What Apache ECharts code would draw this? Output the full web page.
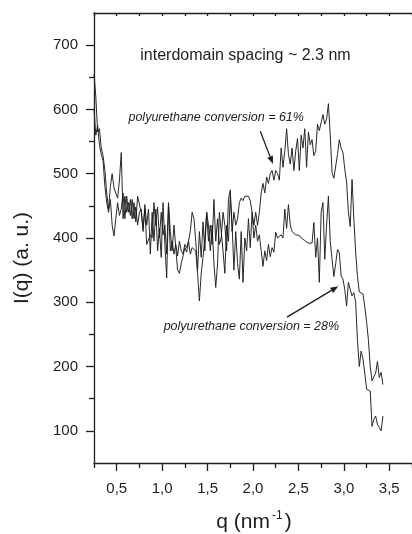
<!DOCTYPE html>
<html>
<head>
<meta charset="utf-8">
<script src="https://cdn.jsdelivr.net/npm/echarts@6/dist/echarts.min.js"></script>
<style>
  html, body { margin: 0; padding: 0; background: #fff; }
  #chart { width: 412px; height: 534px; }
</style>
</head>
<body>
<div id="chart"></div>
<script>
// Scattering vector q (nm^-1)
const q = [
  0.25,0.27,0.29,0.31,0.33,0.35,0.37,0.39,0.41,0.43,0.45,0.47,0.49,0.51,0.53,0.55,0.57,0.59,0.61,0.63,
  0.65,0.67,0.69,0.71,0.73,0.75,0.77,0.79,0.81,0.83,0.85,0.87,0.89,0.91,0.93,0.95,0.97,0.99,1.01,1.03,
  1.05,1.07,1.09,1.11,1.13,1.15,1.17,1.19,1.21,1.23,1.25,1.27,1.29,1.31,1.33,1.35,1.37,1.39,1.41,1.43,
  1.45,1.47,1.49,1.51,1.53,1.55,1.57,1.59,1.61,1.63,1.65,1.67,1.69,1.71,1.73,1.75,1.77,1.79,1.81,1.83,
  1.85,1.87,1.89,1.91,1.93,1.95,1.97,1.99,2.01,2.03,2.05,2.07,2.09,2.11,2.13,2.15,2.17,2.19,2.21,2.23,
  2.25,2.27,2.29,2.31,2.33,2.35,2.37,2.39,2.41,2.43,2.45,2.47,2.49,2.51,2.53,2.55,2.57,2.59,2.61,2.63,
  2.65,2.67,2.69,2.71,2.73,2.75,2.77,2.79,2.81,2.83,2.85,2.87,2.89,2.91,2.93,2.95,2.97,2.99,3.01,3.03,
  3.05,3.07,3.09,3.11,3.13,3.15,3.17,3.19,3.21,3.23,3.25,3.27,3.29,3.31,3.33,3.35,3.37,3.39,3.41,3.43
];

// Intensity, polyurethane conversion = 61 %
const conv61 = [
  655,620,565,570,540,528,505,470,445,480,500,478,470,462,490,533,430,465,440,455,
  435,460,430,448,420,440,445,410,452,420,445,375,440,395,445,380,415,370,455,390,
  338,450,380,395,375,390,372,395,380,375,390,385,395,410,440,430,395,350,410,370,
  425,380,440,395,420,390,460,395,430,390,400,440,420,380,460,475,410,440,420,430,
  455,462,458,465,462,465,458,440,420,440,420,440,470,485,470,495,485,500,505,490,
  505,500,490,540,510,535,570,530,515,540,505,535,555,505,560,540,570,510,565,545,
  553,528,535,577,567,570,592,577,585,609,560,502,493,496,530,553,540,533,507,487,
  440,418,491,430,378,340,316,313,313,294,270,242,200,178,175,190,208,183,191,172
];

// Intensity, polyurethane conversion = 28 %
const conv28 = [
  600,560,575,545,530,520,480,455,440,460,420,403,430,455,435,445,470,430,465,440,
  460,430,455,425,465,465,440,415,445,390,392,405,400,455,420,448,400,440,405,420,
  375,455,410,380,420,385,350,345,360,372,385,378,395,375,385,385,380,345,302,345,
  370,400,440,420,380,420,360,323,360,440,410,380,345,420,395,465,420,350,410,360,
  336,410,331,400,380,430,385,440,400,420,395,405,380,356,380,365,390,371,385,378,
  409,400,398,405,400,445,415,452,420,410,408,405,408,404,400,398,396,393,392,395,
  392,424,370,400,331,440,455,367,420,465,395,367,340,360,382,377,341,336,320,294,
  331,320,310,315,300,240,200,224,212,190,165,165,162,107,118,123,110,105,100,123
];

// Axis ticks
const xMajor = [0.5, 1.0, 1.5, 2.0, 2.5, 3.0, 3.5];
const xMinor = [0.25, 0.75, 1.25, 1.75, 2.25, 2.75, 3.25, 3.75];
const yMajor = [100, 200, 300, 400, 500, 600, 700];
const yMinor = [150, 250, 350, 450, 550, 650];

const FONT = '"Liberation Sans", Arial, Helvetica, sans-serif';
const INK = '#1e1e1e';

const pts61 = q.map((v, i) => [v, conv61[i]]);
const pts28 = q.map((v, i) => [v, conv28[i]]);

const chart = echarts.init(document.getElementById('chart'), null, { renderer: 'canvas' });

const lineStyleAxis = { color: INK, width: 1.3 };

chart.setOption({
  animation: false,
  backgroundColor: '#fff',
  grid: { left: 94, top: 13, right: -3, bottom: 71, containLabel: false },
  xAxis: [
    {
      type: 'value', position: 'bottom', min: 0.25, max: 3.75,
      axisLine: { show: true, onZero: false, lineStyle: lineStyleAxis },
      axisTick: { show: true, customValues: xMajor, length: 8, lineStyle: lineStyleAxis },
      axisLabel: {
        customValues: xMajor, margin: 18, color: INK, fontSize: 15, fontFamily: FONT,
        formatter: v => v.toFixed(1).replace('.', ',')
      },
      splitLine: { show: false }
    },
    {
      type: 'value', position: 'bottom', min: 0.25, max: 3.75,
      axisLine: { show: false, onZero: false },
      axisTick: { show: true, customValues: xMinor, length: 5, lineStyle: lineStyleAxis },
      axisLabel: { show: false },
      splitLine: { show: false }
    },
    {
      type: 'value', position: 'top', min: 0.25, max: 3.75,
      axisLine: { show: true, onZero: false, lineStyle: lineStyleAxis },
      axisTick: { show: true, inside: true, customValues: xMajor.concat(xMinor), length: 3, lineStyle: lineStyleAxis },
      axisLabel: { show: false },
      splitLine: { show: false }
    }
  ],
  yAxis: [
    {
      type: 'value', position: 'left', min: 50, max: 750,
      axisLine: { show: true, onZero: false, lineStyle: lineStyleAxis },
      axisTick: { show: true, customValues: yMajor, length: 8, lineStyle: lineStyleAxis },
      axisLabel: { customValues: yMajor, margin: 16, color: INK, fontSize: 15, fontFamily: FONT },
      splitLine: { show: false }
    },
    {
      type: 'value', position: 'left', min: 50, max: 750,
      axisLine: { show: false, onZero: false },
      axisTick: { show: true, customValues: yMinor, length: 5, lineStyle: lineStyleAxis },
      axisLabel: { show: false },
      splitLine: { show: false }
    }
  ],
  series: [
    {
      name: 'polyurethane conversion = 61%', type: 'line', xAxisIndex: 0, yAxisIndex: 0,
      data: pts61, showSymbol: false, symbol: 'none',
      lineStyle: { color: INK, width: 0.95 }
    },
    {
      name: 'polyurethane conversion = 28%', type: 'line', xAxisIndex: 0, yAxisIndex: 0,
      data: pts28, showSymbol: false, symbol: 'none',
      lineStyle: { color: INK, width: 0.95 }
    }
  ]
});

// Annotations and pointer arrows, placed in data coordinates
const notes = [
  { at: [1.917, 683], text: 'interdomain spacing ~ 2.3 nm', size: 16, italic: false },
  { at: [1.595, 588], text: 'polyurethane conversion = 61%', size: 12.5, italic: true },
  { at: [1.982, 263], text: 'polyurethane conversion = 28%', size: 12.5, italic: true }
];
const arrows = [
  { from: [2.08, 566], to: [2.22, 515] },
  { from: [2.374, 277], to: [2.94, 325] }
];

const toPx = d => chart.convertToPixel({ xAxisIndex: 0, yAxisIndex: 0 }, d);
const graphics = [];

notes.forEach(n => {
  const p = toPx(n.at);
  graphics.push({
    type: 'text', x: p[0], y: p[1], silent: true,
    style: {
      text: n.text, fill: INK, font: (n.italic ? 'italic ' : '') + n.size + 'px ' + FONT,
      align: 'center', verticalAlign: 'middle'
    }
  });
});

arrows.forEach(a => {
  const p0 = toPx(a.from), p1 = toPx(a.to);
  const dx = p1[0] - p0[0], dy = p1[1] - p0[1];
  const len = Math.hypot(dx, dy), ux = dx / len, uy = dy / len;
  const headL = 8, headW = 3;
  const bx = p1[0] - ux * headL, by = p1[1] - uy * headL;
  graphics.push({
    type: 'line', silent: true,
    shape: { x1: p0[0], y1: p0[1], x2: bx, y2: by },
    style: { stroke: INK, lineWidth: 1.3 }
  });
  graphics.push({
    type: 'polygon', silent: true,
    shape: { points: [[p1[0], p1[1]], [bx - uy * headW, by + ux * headW], [bx + uy * headW, by - ux * headW]] },
    style: { fill: INK }
  });
});

// Axis titles
const plotMidY = (toPx([0.25, 50])[1] + toPx([0.25, 750])[1]) / 2;
graphics.push({
  type: 'text', x: 22, y: plotMidY + 20, rotation: Math.PI / 2, silent: true,
  style: { text: 'I(q) (a. u.)', fill: INK, font: '21px ' + FONT, align: 'center', verticalAlign: 'middle' }
});
graphics.push({
  type: 'text', x: 254, y: 522, silent: true,
  style: {
    text: '{a|q (nm}{s|-1}{a|)}', align: 'center', verticalAlign: 'middle',
    rich: {
      a: { fontSize: 21, fontFamily: FONT, fill: INK, color: INK },
      s: { fontSize: 12, fontFamily: FONT, fill: INK, color: INK, verticalAlign: 'top', padding: [0, 2, 12, 2] }
    }
  }
});

chart.setOption({ graphic: graphics });
</script>
</body>
</html>
